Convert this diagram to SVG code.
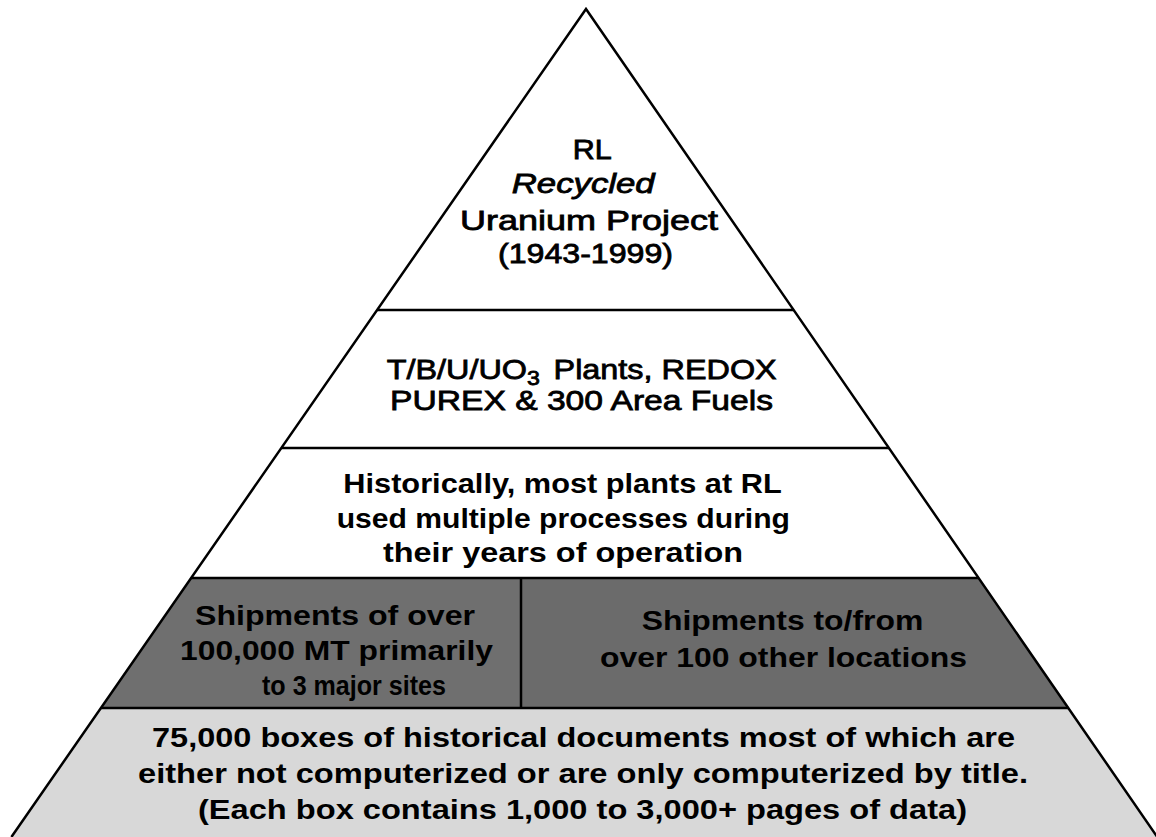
<svg xmlns="http://www.w3.org/2000/svg" width="1156" height="837" viewBox="0 0 1156 837">
  <style>
    .t { font-family: "Liberation Sans", Arial, sans-serif; fill: #000; }
    .r { font-weight: normal; stroke: #000; stroke-width: 0.8; }
    .b { font-weight: bold; }
    .band { stroke: none; }
    .sep { stroke: #000; stroke-width: 2.5; fill: none; }
  </style>
  <rect x="0" y="0" width="1156" height="837" fill="#ffffff"/>

  <g id="tier-top">
    <polygon class="band" points="586,9 793.7,310 377.1,310" fill="#ffffff"/>
    <text class="t r" x="572.7" y="159" font-size="27" textLength="39" lengthAdjust="spacingAndGlyphs">RL</text>
    <text class="t r" x="511.7" y="193" font-size="28" font-style="italic" textLength="143" lengthAdjust="spacingAndGlyphs">Recycled</text>
    <text class="t r" x="460" y="229.5" font-size="28" textLength="258" lengthAdjust="spacingAndGlyphs">Uranium Project</text>
    <text class="t r" x="498" y="262.5" font-size="28" textLength="175" lengthAdjust="spacingAndGlyphs">(1943-1999)</text>
  </g>

  <g id="tier-plants">
    <polygon class="band" points="377.1,310 793.7,310 888.9,448 281.3,448" fill="#ffffff"/>
    <text class="t r" x="386.7" y="379" font-size="28" textLength="390" lengthAdjust="spacingAndGlyphs">T/B/U/UO<tspan baseline-shift="-6" font-size="20">3</tspan><tspan dx="4"> Plants, REDOX</tspan></text>
    <text class="t r" x="390" y="410" font-size="28" textLength="383" lengthAdjust="spacingAndGlyphs">PUREX &amp; 300 Area Fuels</text>
  </g>

  <g id="tier-processes">
    <polygon class="band" points="281.3,448 888.9,448 978.6,578 191.1,578" fill="#ffffff"/>
    <text class="t b" x="343.3" y="493" font-size="28" textLength="438.4" lengthAdjust="spacingAndGlyphs">Historically, most plants at RL</text>
    <text class="t b" x="336.7" y="528" font-size="28" textLength="453.3" lengthAdjust="spacingAndGlyphs">used multiple processes during</text>
    <text class="t b" x="383" y="561.5" font-size="28" textLength="360" lengthAdjust="spacingAndGlyphs">their years of operation</text>
  </g>

  <g id="tier-shipments-major">
    <polygon class="band" points="191.1,578 521,578 521,708 100.9,708" fill="#6f6f6f"/>
    <text class="t b" x="195" y="625" font-size="28" textLength="280" lengthAdjust="spacingAndGlyphs">Shipments of over</text>
    <text class="t b" x="180" y="660" font-size="28" textLength="313" lengthAdjust="spacingAndGlyphs">100,000 MT primarily</text>
    <text class="t b" x="262" y="695" font-size="28" textLength="184" lengthAdjust="spacingAndGlyphs">to 3 major sites</text>
  </g>

  <g id="tier-shipments-other">
    <polygon class="band" points="521,578 978.6,578 1068.3,708 521,708" fill="#6b6b6b"/>
    <text class="t b" x="641.7" y="630" font-size="28" textLength="281.6" lengthAdjust="spacingAndGlyphs">Shipments to/from</text>
    <text class="t b" x="600" y="666.5" font-size="28" textLength="367" lengthAdjust="spacingAndGlyphs">over 100 other locations</text>
  </g>

  <g id="tier-documents">
    <polygon class="band" points="100.9,708 1068.3,708 1157.3,837 11.4,837" fill="#d8d8d8"/>
    <text class="t b" x="152" y="747" font-size="28" textLength="863" lengthAdjust="spacingAndGlyphs">75,000 boxes of historical documents most of which are</text>
    <text class="t b" x="138" y="783" font-size="28" textLength="890" lengthAdjust="spacingAndGlyphs">either not computerized or are only computerized by title.</text>
    <text class="t b" x="198" y="818.5" font-size="28" textLength="769" lengthAdjust="spacingAndGlyphs">(Each box contains 1,000 to 3,000+ pages of data)</text>
  </g>

  <g id="connectors">
    <polyline class="sep" points="11.4,837 586,9 1157.3,837"/>
    <line class="sep" x1="377.1" y1="310" x2="793.7" y2="310"/>
    <line class="sep" x1="281.3" y1="448" x2="888.9" y2="448"/>
    <line class="sep" x1="191.1" y1="578" x2="978.6" y2="578"/>
    <line class="sep" x1="100.9" y1="708" x2="1068.3" y2="708"/>
    <line class="sep" x1="521" y1="578" x2="521" y2="708" stroke-width="3"/>
  </g>
</svg>
